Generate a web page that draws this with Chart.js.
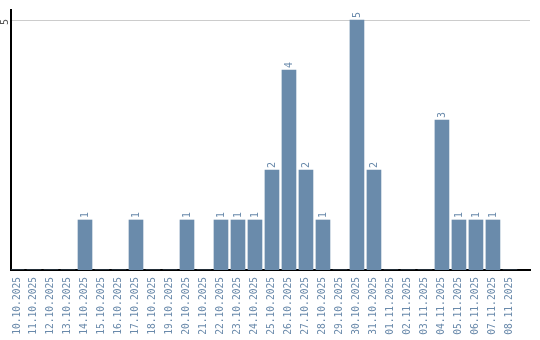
<!DOCTYPE html>
<html>
<head>
<meta charset="utf-8">
<script src="https://cdn.jsdelivr.net/npm/chart.js@4/dist/chart.umd.min.js"></script>
<style>
html,body{margin:0;padding:0;background:#fff;}
#wrap{width:540px;height:340px;}
</style>
</head>
<body>
<div id="wrap"><canvas id="c" width="540" height="340"></canvas></div>
<script>
const categories = ["10.10.2025","11.10.2025","12.10.2025","13.10.2025","14.10.2025","15.10.2025","16.10.2025","17.10.2025","18.10.2025","19.10.2025","20.10.2025","21.10.2025","22.10.2025","23.10.2025","24.10.2025","25.10.2025","26.10.2025","27.10.2025","28.10.2025","29.10.2025","30.10.2025","31.10.2025","01.11.2025","02.11.2025","03.11.2025","04.11.2025","05.11.2025","06.11.2025","07.11.2025","08.11.2025"];
const counts = [0,0,0,0,1,0,0,1,0,0,1,0,1,1,1,2,4,2,1,0,5,2,0,0,0,3,1,1,1,0];
const yTickValues = [5];

const BAR = '#6a8bab';
const LABEL = '#6a8aab';
const FONT_FAMILY = '"DejaVu Sans Mono", monospace';

const points = counts.map((v, i) => ({x: i, y: v}));

const labelPlugin = {
  id: 'valueLabels',
  afterDatasetsDraw(chart) {
    const ctx = chart.ctx;
    const meta = chart.getDatasetMeta(0);
    ctx.save();
    ctx.font = '10px ' + FONT_FAMILY;
    ctx.fillStyle = LABEL;
    ctx.textAlign = 'left';
    ctx.textBaseline = 'middle';
    meta.data.forEach((el, i) => {
      const v = counts[i];
      if (!v) return;
      ctx.save();
      ctx.translate(el.x, el.y - 2);
      ctx.rotate(-Math.PI / 2);
      ctx.fillText(String(v), 0, 0);
      ctx.restore();
    });
    const ys = chart.scales.y;
    ctx.fillStyle = '#555';
    ctx.textAlign = 'center';
    yTickValues.forEach(t => {
      ctx.save();
      ctx.translate(5, ys.getPixelForValue(t) + 2);
      ctx.rotate(-Math.PI / 2);
      ctx.fillText(String(t), 0, 0);
      ctx.restore();
    });
    ctx.restore();
  }
};

new Chart(document.getElementById('c'), {
  type: 'bar',
  data: {
    datasets: [{
      data: points,
      backgroundColor: BAR,
      borderWidth: 0,
      barThickness: 14
    }]
  },
  options: {
    responsive: false,
    animation: false,
    layout: {padding: {left: 0, right: 10, top: 10, bottom: 0}},
    plugins: {legend: {display: false}, tooltip: {enabled: false}},
    scales: {
      x: {
        type: 'linear',
        offset: false,
        min: -0.353,
        max: 30.18,
        afterBuildTicks(scale) {
          scale.ticks = categories.map((_, i) => ({value: i}));
        },
        afterFit(scale) {
          scale.height = 70;
          scale.paddingLeft = 0;
          scale.paddingRight = 0;
        },
        grid: {display: false, drawTicks: false, tickLength: 0},
        border: {display: true, color: '#000', width: 2},
        ticks: {
          autoSkip: false,
          minRotation: 90,
          maxRotation: 90,
          padding: 7,
          color: LABEL,
          font: {family: FONT_FAMILY, size: 9.6},
          callback: (v) => categories[v] ?? ''
        }
      },
      y: {
        min: 0,
        max: 5.2,
        afterBuildTicks(scale) {
          scale.ticks = yTickValues.map(v => ({value: v}));
        },
        afterFit(scale) { scale.width = 11; },
        grid: {color: '#cccccc', lineWidth: 1, drawTicks: false},
        border: {display: true, color: '#000', width: 2},
        ticks: {display: false}
      }
    }
  },
  plugins: [labelPlugin]
});
</script>
</body>
</html>
